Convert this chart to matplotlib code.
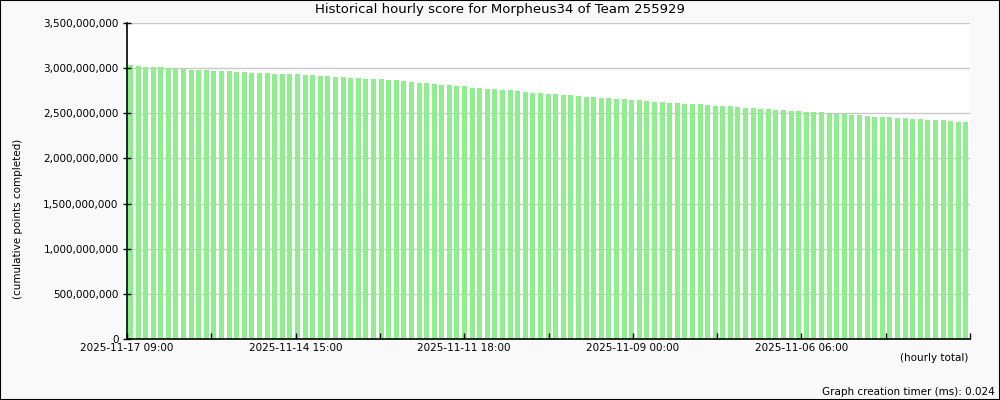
import matplotlib
matplotlib.use("Agg")
import matplotlib.pyplot as plt
from matplotlib.ticker import FuncFormatter
import numpy as np

# hourly cumulative score, in millions of points (newest first)
score_m = [3035, 3024, 3013, 3013, 3013, 3001, 2990, 2990, 2979, 2979, 2979, 2968,
           2968, 2968, 2957, 2957, 2946, 2946, 2946, 2935, 2935, 2935, 2935,
           2924, 2924, 2913, 2913, 2902, 2902, 2891, 2891, 2880, 2880, 2880, 2869,
           2869, 2858, 2847, 2835, 2835, 2824, 2813, 2813, 2802, 2802,
           2780, 2780, 2769, 2769, 2758, 2758, 2747, 2736, 2725, 2725, 2714, 2714,
           2703, 2703, 2691, 2680, 2680, 2669, 2669, 2658, 2658, 2647, 2647,
           2636, 2625, 2625, 2614, 2614, 2603, 2603, 2603, 2592, 2581, 2581, 2581,
           2570, 2559, 2559, 2547, 2547, 2536, 2536, 2525, 2525, 2514,
           2514, 2514, 2503, 2492, 2492, 2481, 2481, 2470, 2459, 2459, 2459, 2448,
           2448, 2437, 2437, 2426, 2426, 2426, 2415, 2404, 2404]

date_labels = ["2025-11-17 09:00", "2025-11-14 15:00", "2025-11-11 18:00",
               "2025-11-09 00:00", "2025-11-06 06:00"]

title = "Historical hourly score for Morpheus34 of Team 255929"

scores = np.array(score_m) * 1e6
n = len(scores)

fig = plt.figure(figsize=(10, 4), dpi=100, facecolor="#f9f9f9")
ax = fig.add_axes([0.127, 0.1525, 0.843, 0.79])
ax.set_facecolor("white")
ax.set_axisbelow(False)  # ticks above the bars

x = np.arange(n)
ax.bar(x + 0.12, scores, width=0.66, align="edge", color="#90ee90", zorder=2)

ax.set_xlim(0, n)
ax.set_ylim(0, 3.5e9)

# y axis, grid drawn by hand so it stays under the bars
yticks = np.arange(0, 3.5e9 + 1, 5e8)
ax.set_yticks(yticks)
ax.yaxis.set_major_formatter(FuncFormatter(lambda v, p: f"{int(v):,}"))
for yt in yticks[1:]:
    ax.axhline(yt, color="#c8c8c8", linewidth=1, zorder=0.5)

# x axis: 10 divisions, label every other one
ticks = np.linspace(0, n, 11)
ax.set_xticks(ticks)
labels = []
for i in range(len(ticks)):
    if i % 2 == 0 and i // 2 < len(date_labels):
        labels.append(date_labels[i // 2])
    else:
        labels.append("")
ax.set_xticklabels(labels)

ax.tick_params(axis="both", direction="in", length=4, width=1, labelsize=7.5,
               color="black", pad=3)
ax.tick_params(axis="y", direction="inout", length=6)

for s in ["top", "right"]:
    ax.spines[s].set_visible(False)
for s in ["left", "bottom"]:
    ax.spines[s].set_linewidth(1.2)
    ax.spines[s].set_color("black")

fig.text(0.5, 0.975, title, ha="center", va="center", fontsize=9.5)
fig.text(0.018, 0.4525, "(cumulative points completed)", rotation=90,
         ha="center", va="center", fontsize=7.5)
fig.text(0.968, 0.105, "(hourly total)", ha="right", va="center", fontsize=7.5)
fig.text(0.995, 0.02, "Graph creation timer (ms): 0.024", ha="right", va="center",
         fontsize=7.5)

# thin black frame round the picture
fig.add_artist(plt.Rectangle((0, 0), 1, 1, transform=fig.transFigure, fill=False,
                             edgecolor="black", linewidth=1.5))

plt.savefig("out.png", dpi=100, facecolor=fig.get_facecolor())
